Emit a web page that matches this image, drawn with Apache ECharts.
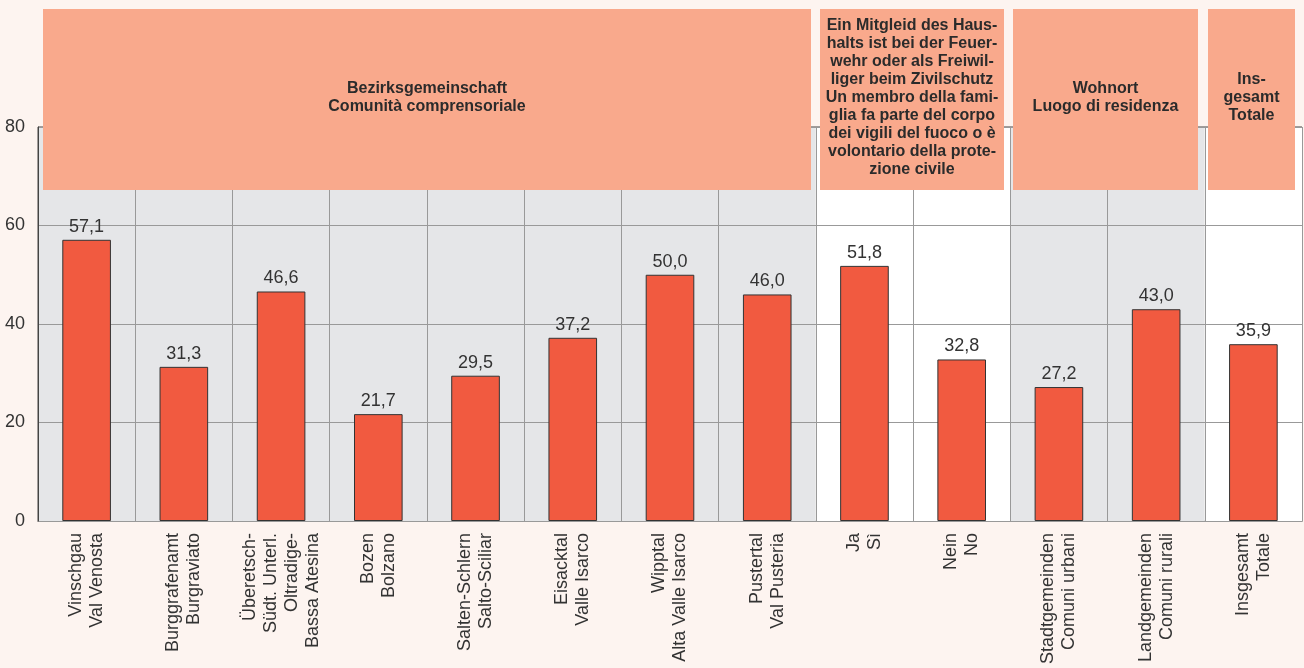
<!DOCTYPE html>
<html>
<head>
<meta charset="utf-8">
<title>Feuerwehr / Zivilschutz</title>
<script src="https://cdn.jsdelivr.net/npm/echarts@6/dist/echarts.min.js"></script>
<style>
  html, body { margin: 0; padding: 0; background: #fdf4f0; }
  .box1 { width: 1304px; height: 668px; }
</style>
</head>
<body>
<div class="box1"></div>
<script>
// Kategorien (x-Achse)
var categories = [
  'Vinschgau\nVal Venosta',
  'Burggrafenamt\nBurgraviato',
  'Überetsch-\nSüdt. Unterl.\nOltradige-\nBassa Atesina',
  'Bozen\nBolzano',
  'Salten-Schlern\nSalto-Sciliar',
  'Eisacktal\nValle Isarco',
  'Wipptal\nAlta Valle Isarco',
  'Pustertal\nVal Pusteria',
  'Ja\nSì',
  'Nein\nNo',
  'Stadtgemeinden\nComuni urbani',
  'Landgemeinden\nComuni rurali',
  'Insgesamt\nTotale'
];
// Werte in %
var values = [57.1, 31.3, 46.6, 21.7, 29.5, 37.2, 50.0, 46.0, 51.8, 32.8, 27.2, 43.0, 35.9];
// y-Achse
var yTicks = [0, 20, 40, 60, 80];
// Gruppenüberschriften
var groupTitles = [
  'Bezirksgemeinschaft\nComunità comprensoriale',
  'Ein Mitgleid des Haus-\nhalts ist bei der Feuer-\nwehr oder als Freiwil-\nliger beim Zivilschutz\nUn membro della fami-\nglia fa parte del corpo\ndei vigili del fuoco o è\nvolontario della prote-\nzione civile',
  'Wohnort\nLuogo di residenza',
  'Ins-\ngesamt\nTotale'
];
// Hintergrund je Kategorie (grau / weiss)
var bandColors = ['#e5e6e8', '#e5e6e8', '#e5e6e8', '#e5e6e8', '#e5e6e8', '#e5e6e8', '#e5e6e8', '#e5e6e8',
  '#ffffff', '#ffffff', '#e5e6e8', '#e5e6e8', '#ffffff'];

(function () {
  var myChart = echarts.init(document.querySelector('.box1'));
  var font = '"Liberation Sans", Arial, sans-serif';

  // Kästen oben: [links, breite]
  var boxes = [[43, 768], [820, 184], [1013, 185], [1208, 87]];
  var graphics = [];
  boxes.forEach(function (b, i) {
    graphics.push({
      type: 'rect', z: 100,
      shape: { x: b[0], y: 9, width: b[1], height: 181 },
      style: { fill: '#f9a98c' }
    });
    graphics.push({
      type: 'text', z: 101,
      x: b[0] + b[1] / 2, y: 98,
      style: {
        text: groupTitles[i],
        fill: '#2b2b2b',
        font: 'bold 16px ' + font,
        lineHeight: 18,
        textAlign: 'center',
        textVerticalAlign: 'middle'
      }
    });
  });

  var option = {
    backgroundColor: '#fdf4f0',
    textStyle: { fontFamily: font },
    grid: {
      left: 38, right: 2, top: 127, bottom: 147,
      show: true, borderColor: '#444', borderWidth: 1,
      backgroundColor: 'transparent'
    },
    xAxis: {
      type: 'category',
      data: categories,
      z: 0,
      axisLine: { lineStyle: { color: '#444' } },
      axisTick: { show: false },
      axisLabel: {
        interval: 0, rotate: 90, margin: 12,
        fontSize: 18, lineHeight: 21, color: '#333', fontFamily: font
      },
      splitLine: { show: true, interval: 0, lineStyle: { color: '#999' } },
      splitArea: { show: true, interval: 0, areaStyle: { color: bandColors } }
    },
    yAxis: {
      type: 'value',
      z: 1,
      min: yTicks[0], max: yTicks[yTicks.length - 1], interval: 20,
      axisLine: { show: true, lineStyle: { color: '#444' } },
      axisTick: { show: false },
      axisLabel: { fontSize: 18, color: '#333', margin: 13, fontFamily: font },
      splitLine: { lineStyle: { color: '#999' } }
    },
    series: [{
      type: 'bar',
      z: 2,
      data: values,
      barWidth: '50%',
      itemStyle: { color: '#f15a40', borderColor: '#333', borderWidth: 1 },
      label: {
        show: true, position: 'top', distance: 4,
        fontSize: 18, color: '#333', fontFamily: font,
        formatter: function (p) { return p.value.toFixed(1).replace('.', ','); }
      }
    }],
    graphic: graphics
  };

  myChart.setOption(option);
  window.addEventListener('resize', function () {
    myChart.resize();
  });
})();
</script>
</body>
</html>
